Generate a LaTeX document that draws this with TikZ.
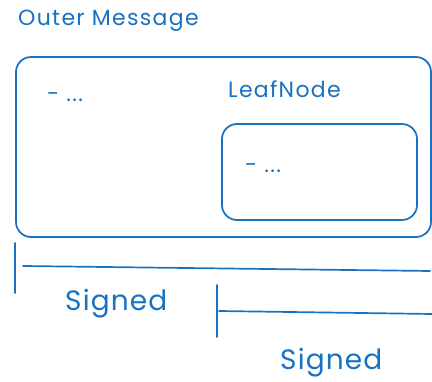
\documentclass[tikz,border=0pt]{standalone}
\usepackage{fontspec}
\setmainfont{Poppins}
\usetikzlibrary{positioning}
\definecolor{inkblue}{HTML}{1971C2}

\begin{document}
\begin{tikzpicture}[
    x=1pt, y=-1pt,
    box/.style={draw=inkblue, line width=1.7pt, rounded corners=15pt, inner sep=0pt},
    txt/.style={text=inkblue, font=\fontsize{22}{26}\selectfont\addfontfeature{LetterSpace=6}, inner sep=0pt, anchor=base west},
    big/.style={text=inkblue, font=\fontsize{28}{32}\selectfont\addfontfeature{LetterSpace=4}, inner sep=0pt, anchor=base west},
    bar/.style={draw=inkblue, line width=1.7pt, line cap=round}
]
    \useasboundingbox (0,0) rectangle (432,382);

    % Boxes
    \node[box, minimum width=415pt, minimum height=180pt] (outer) at (223.5,147) {};
    \node[box, minimum width=195pt, minimum height=96pt] (leaf) at (319.5,172) {};

    % Labels
    \node[txt] (title) at (18,26) {Outer Message};
    \node[txt] (outerdots) at (47,102) {- ...};
    \node[txt] (leafname) at (228,98) {LeafNode};
    \node[txt] (leafdots) at (245,173) {- ...};

    % Brackets
    \coordinate (tickA1) at (15,243);
    \coordinate (tickA2) at (15,293);
    \coordinate (lineA1) at (23,266);
    \coordinate (lineA2) at (430,271);
    \coordinate (tickB1) at (217,285);
    \coordinate (tickB2) at (217,337);
    \coordinate (lineB1) at (219,311);
    \coordinate (lineB2) at (432,314);
    \draw[bar] (tickA1) -- (tickA2);
    \draw[bar] (lineA1) -- (lineA2);
    \draw[bar] (tickB1) -- (tickB2);
    \draw[bar] (lineB1) -- (lineB2);

    \node[big] (signedA) at (65,311) {Signed};
    \node[big] (signedB) at (280,370) {Signed};
\end{tikzpicture}
\end{document}
